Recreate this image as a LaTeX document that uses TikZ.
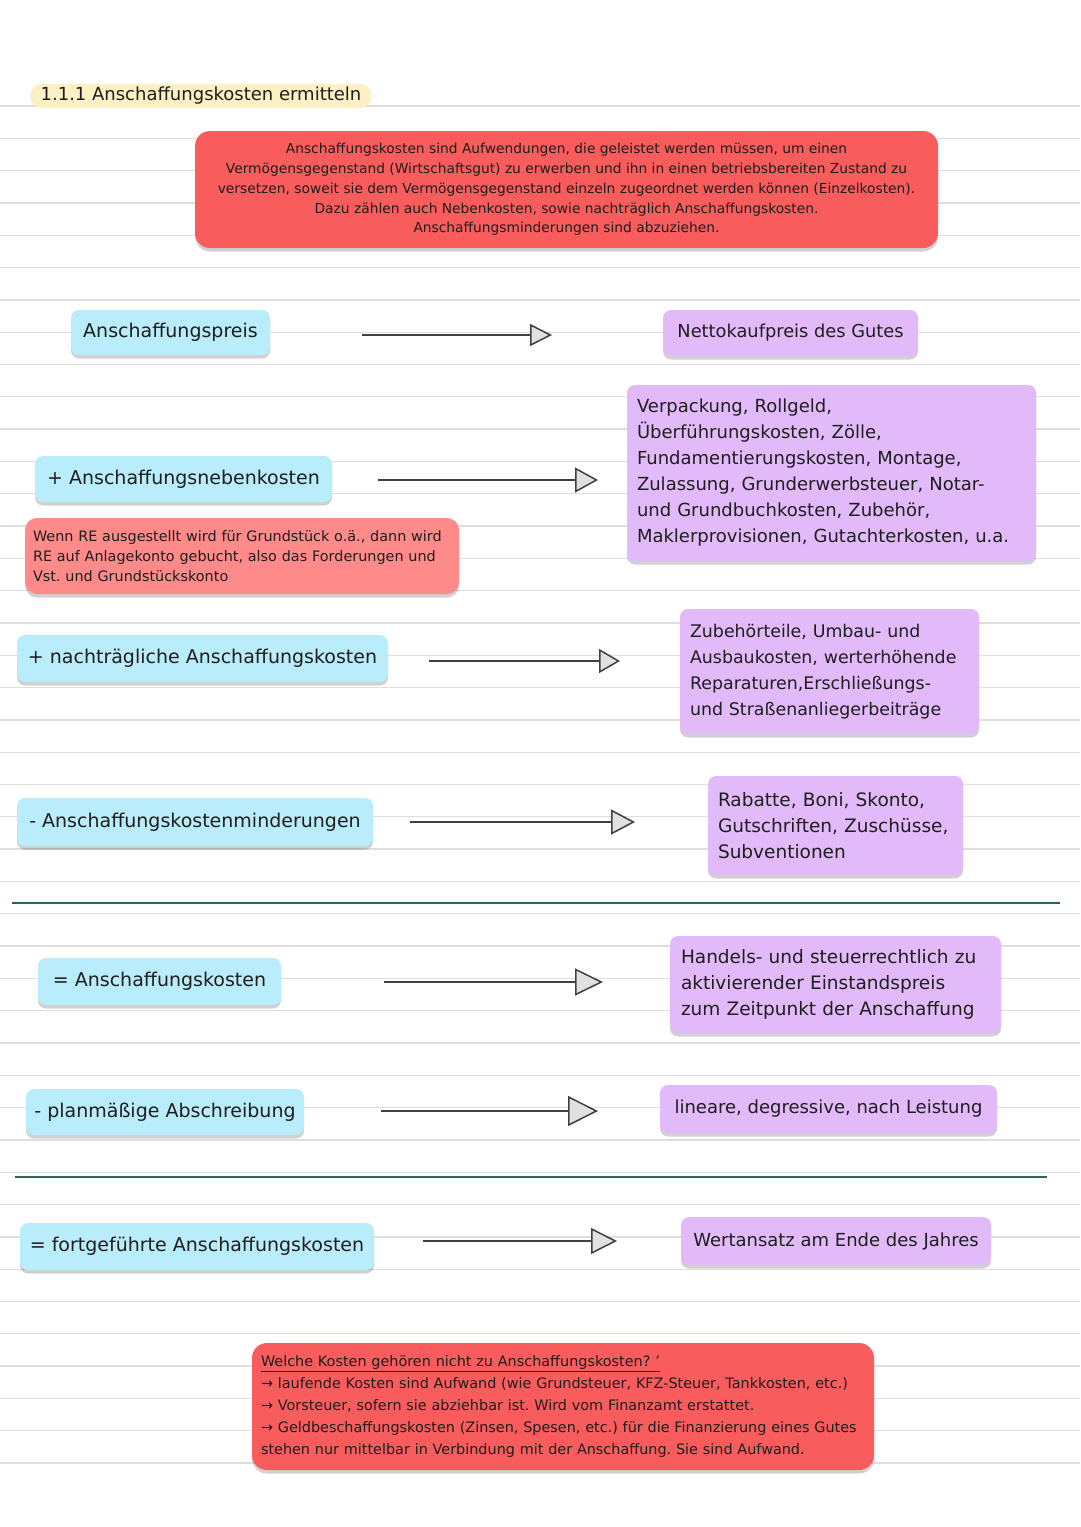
\documentclass[tikz,border=0pt]{standalone}
\usepackage{fontspec}
\setmainfont{DejaVu Sans}
\frenchspacing
\usetikzlibrary{arrows.meta,shadows}
\definecolor{boxblue}{RGB}{186,237,252}
\definecolor{boxpurple}{RGB}{226,186,250}
\definecolor{boxred}{RGB}{248,92,92}
\definecolor{boxpink}{RGB}{255,138,138}
\definecolor{titlebg}{RGB}{252,240,196}
\definecolor{rulegray}{RGB}{222,222,222}
\definecolor{sepgreen}{RGB}{36,104,82}
\definecolor{inkc}{RGB}{30,30,30}
\definecolor{tipfill}{RGB}{225,225,225}
\tikzset{
  shad/.style={drop shadow={shadow xshift=0pt,shadow yshift=-3.5pt,opacity=0.18,fill=black}},
  bluebox/.style={shad,fill=boxblue,rounded corners=8pt,inner sep=0pt,align=center,text=inkc,font=\fontsize{19}{22}\selectfont},
  purplebox/.style={shad,fill=boxpurple,rounded corners=8pt,inner sep=0pt,text=inkc},
  redbox/.style={shad,fill=boxred,rounded corners=15pt,inner sep=0pt,text=inkc},
  pinkbox/.style={shad,fill=boxpink,rounded corners=12pt,inner sep=0pt,text=inkc},
  ruleline/.style={draw=rulegray,line width=1.3pt},
  sepline/.style={draw=sepgreen,line width=2.5pt},
  conn/.style={draw=inkc!85,line width=1.5pt},
}
\begin{document}
\begin{tikzpicture}[x=1pt,y=-1pt]
\useasboundingbox (0,0) rectangle (1080,1527);
\fill[white] (0,0) rectangle (1080,1527);
\foreach \k in {0,...,42} {\draw[ruleline] (0,{106+32.31*\k}) -- (1080,{106+32.31*\k});}
\draw[sepline] (12,903) -- (1060,903);
\draw[sepline] (15,1177) -- (1047,1177);

% title
\node[fill=titlebg,rounded corners=12pt,minimum width=342pt,minimum height=24pt,inner sep=0pt,text=inkc,font=\fontsize{18}{20}\selectfont] (title) at (201,96) {1.1.1 Anschaffungskosten ermitteln};

% definition
\node[redbox,minimum width=743pt,minimum height=117pt,align=center,font=\fontsize{13.8}{19.75}\selectfont] (def) at (566.5,189.5) {Anschaffungskosten sind Aufwendungen, die geleistet werden müssen, um einen\\Vermögensgegenstand (Wirtschaftsgut) zu erwerben und ihn in einen betriebsbereiten Zustand zu\\versetzen, soweit sie dem Vermögensgegenstand einzeln zugeordnet werden können (Einzelkosten).\\Dazu zählen auch Nebenkosten, sowie nachträglich Anschaffungskosten.\\Anschaffungsminderungen sind abzuziehen.};

% left boxes
\node[bluebox,minimum width=199pt,minimum height=45pt] (b1) at (170.5,332.5) {Anschaffungspreis};
\node[bluebox,minimum width=297pt,minimum height=46pt] (b2) at (183.5,479) {+ Anschaffungsnebenkosten};
\node[bluebox,minimum width=371pt,minimum height=47pt] (b3) at (202.5,658.5) {+ nachträgliche Anschaffungskosten};
\node[bluebox,minimum width=356pt,minimum height=48pt] (b4) at (195,822) {- Anschaffungskostenminderungen};
\node[bluebox,minimum width=243pt,minimum height=47pt] (b5) at (159.5,981.5) {= Anschaffungskosten};
\node[bluebox,minimum width=278pt,minimum height=46pt] (b6) at (165,1112) {- planmäßige Abschreibung};
\node[bluebox,minimum width=354pt,minimum height=47pt] (b7) at (197,1246.5) {= fortgeführte Anschaffungskosten};

% note
\node[pinkbox,minimum width=434pt,minimum height=76pt,inner xsep=8pt,text width=418pt,align=left,font=\fontsize{14.4}{20}\selectfont] (note) at (242,556) {Wenn RE ausgestellt wird für Grundstück o.ä., dann wird\\RE auf Anlagekonto gebucht, also das Forderungen und\\Vst. und Grundstückskonto};

% right boxes
\node[purplebox,minimum width=255pt,minimum height=46pt,align=center,font=\fontsize{17.8}{20}\selectfont] (p1) at (790.5,333) {Nettokaufpreis des Gutes};
\node[purplebox,minimum width=409pt,minimum height=176pt,inner xsep=10pt,text width=389pt,align=left,font=\fontsize{18}{26}\selectfont] (p2) at (831.5,473) {Verpackung, Rollgeld,\\Überführungskosten, Zölle,\\Fundamentierungskosten, Montage,\\Zulassung, Grunderwerbsteuer, Notar-\\und Grundbuchkosten, Zubehör,\\Maklerprovisionen, Gutachterkosten, u.a.};
\node[purplebox,minimum width=299pt,minimum height=125pt,inner xsep=10pt,text width=279pt,align=left,font=\fontsize{17.4}{26}\selectfont] (p3) at (829.5,671.5) {Zubehörteile, Umbau- und\\Ausbaukosten, werterhöhende\\Reparaturen,Erschließungs-\\und Straßenanliegerbeiträge};
\node[purplebox,minimum width=255pt,minimum height=99pt,inner xsep=10pt,text width=235pt,align=left,font=\fontsize{18.5}{26}\selectfont] (p4) at (835.5,825.5) {Rabatte, Boni, Skonto,\\Gutschriften, Zuschüsse,\\Subventionen};
\node[purplebox,minimum width=331pt,minimum height=97pt,inner xsep=11pt,text width=309pt,align=left,font=\fontsize{18.5}{26}\selectfont] (p5) at (835.5,984.5) {Handels- und steuerrechtlich zu\\aktivierender Einstandspreis\\zum Zeitpunkt der Anschaffung};
\node[purplebox,minimum width=337pt,minimum height=48pt,align=center,font=\fontsize{18}{20}\selectfont] (p6) at (828.5,1109) {lineare, degressive, nach Leistung};
\node[purplebox,minimum width=310pt,minimum height=48pt,align=center,font=\fontsize{18}{20}\selectfont] (p7) at (836,1241) {Wertansatz am Ende des Jahres};

% bottom note
\node[redbox,minimum width=622pt,minimum height=127pt,inner xsep=9pt,text width=604pt,align=left,font=\fontsize{14.4}{22}\selectfont] (excl) at (563,1406.5) {\underline{Welche Kosten gehören nicht zu Anschaffungskosten? '}\\→ laufende Kosten sind Aufwand (wie Grundsteuer, KFZ-Steuer, Tankkosten, etc.)\\→ Vorsteuer, sofern sie abziehbar ist. Wird vom Finanzamt erstattet.\\→ Geldbeschaffungskosten (Zinsen, Spesen, etc.) für die Finanzierung eines Gutes\\stehen nur mittelbar in Verbindung mit der Anschaffung. Sie sind Aufwand.};

% connectors
\coordinate (s1) at (362,335); \coordinate (e1) at (552,335);
\coordinate (s2) at (378,480); \coordinate (e2) at (598,480);
\coordinate (s3) at (429,661); \coordinate (e3) at (620,661);
\coordinate (s4) at (410,822); \coordinate (e4) at (635,822);
\coordinate (s5) at (384,982); \coordinate (e5) at (603,982);
\coordinate (s6) at (381,1111); \coordinate (e6) at (598,1111);
\coordinate (s7) at (423,1241); \coordinate (e7) at (617,1241);
\draw[conn,-{Triangle[length=22pt,width=22pt,fill=tipfill]}] (s1) -- (e1);
\draw[conn,-{Triangle[length=23pt,width=25pt,fill=tipfill]}] (s2) -- (e2);
\draw[conn,-{Triangle[length=21pt,width=24pt,fill=tipfill]}] (s3) -- (e3);
\draw[conn,-{Triangle[length=24pt,width=25pt,fill=tipfill]}] (s4) -- (e4);
\draw[conn,-{Triangle[length=28pt,width=27pt,fill=tipfill]}] (s5) -- (e5);
\draw[conn,-{Triangle[length=30pt,width=30pt,fill=tipfill]}] (s6) -- (e6);
\draw[conn,-{Triangle[length=26pt,width=26pt,fill=tipfill]}] (s7) -- (e7);
\end{tikzpicture}
\end{document}
